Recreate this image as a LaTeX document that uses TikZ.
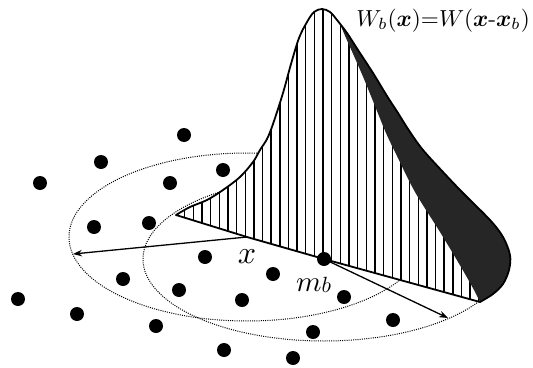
\documentclass[tikz,border=0pt]{standalone}
\usepackage{amsmath}
\usepackage{graphicx}
\usetikzlibrary{arrows.meta}
\begin{document}
\begin{tikzpicture}[x=1pt,y=-1pt,
  dotline/.style={line width=1pt, dash pattern=on 1pt off 1.2pt},
  blob/.style={circle, fill=black, inner sep=0pt, minimum size=14pt},
  outline/.style={line width=1.8pt, line join=round},
  hatchline/.style={line width=1.4pt},
  arr/.style={line width=1.3pt, -{Stealth[length=9pt,width=6.5pt]}},
  darkfill/.style={fill=black!85}]
\useasboundingbox (0,0) rectangle (533,367);

\coordinate (A) at (176,215);
\coordinate (C1) at (247,237);
\coordinate (MB) at (324,259);
\coordinate (E) at (480,302);
\coordinate (XT) at (73,254);
\coordinate (MT) at (448,318);

% dotted ellipses
\draw[dotline] (C1) ellipse [x radius=178pt, y radius=84pt];
\draw[dotline] (MB) ellipse [x radius=181pt, y radius=82pt];

% sample dots
\foreach \i/\p in {1/{(184,135)},2/{(101,162)},3/{(223,170)},4/{(170,183)},5/{(40,183)},
  6/{(94,227)},7/{(149,223)},8/{(205,257)},9/{(273,274)},10/{(123,279)},
  11/{(179,290)},12/{(242,300)},13/{(344,297)},14/{(18,299)},15/{(77,314)},
  16/{(156,326)},17/{(393,320)},18/{(313,332)},19/{(224,350)},20/{(293,358)}}
  \node[blob] (d\i) at \p {};

% kernel white body
\fill[white] plot[smooth,tension=0.55] coordinates {(176,215) (190,207) (207,200) (223,190) (240,177) (253,162) (260,150) (267,139) (273,124) (283,93) (291,64) (299,38) (307,22) (314,12) (322,9) (330,12) (337,20) (347,33) (358,50) (373,73) (387,96) (398,113) (410,132) (423,150) (443,172) (463,193) (490,220) (503,237) (510,255) (509,270) (503,284) (493,294) (480,302)} -- (MB) -- (C1) -- cycle;

\begin{scope}
\clip plot[smooth,tension=0.55] coordinates {(176,215) (190,207) (207,200) (223,190) (240,177) (253,162) (260,150) (267,139) (273,124) (283,93) (291,64) (299,38) (307,22) (314,12) (322,9) (330,12) (337,20) (347,33) (358,50) (373,73) (387,96) (398,113) (410,132) (423,150) (443,172) (463,193) (490,220) (503,237) (510,255) (509,270) (503,284) (493,294) (480,302)} -- (MB) -- (C1) -- cycle;
\foreach \k in {1,...,35}
  \draw[hatchline] ({176+8.65*\k},0) -- ({176+8.65*\k},400);
\fill[darkfill] (340,-10) -- plot[smooth,tension=0.55] coordinates {(340,24) (346,38) (354,56) (364,79) (375,106) (386,133) (397,156) (415,192) (440,232) (461,267) (474,290) (480,302)} -- (486,330) -- (600,330) -- (600,-10) -- cycle;
\end{scope}

% kernel outline
\draw[outline] plot[smooth,tension=0.55] coordinates {(176,215) (190,207) (207,200) (223,190) (240,177) (253,162) (260,150) (267,139) (273,124) (283,93) (291,64) (299,38) (307,22) (314,12) (322,9) (330,12) (337,20) (347,33) (358,50) (373,73) (387,96) (398,113) (410,132) (423,150) (443,172) (463,193) (490,220) (503,237) (510,255) (509,270) (503,284) (493,294) (480,302)} -- (MB) -- (C1) -- cycle;

% arrows
\draw[arr] (C1) -- (XT);
\node[blob] (mb) at (MB) {};
\draw[arr] (mb.center) -- (MT);

% labels
\node[anchor=base east, inner sep=0pt] (title) at (530,26)
  {\scalebox{2.32}{$W_{b}(\boldsymbol{x}){=}W(\boldsymbol{x}\mbox{-}\boldsymbol{x}_{b})$}};
\node[anchor=base, inner sep=0pt] (xl) at (247,263) {\scalebox{3.2}{$x$}};
\node[anchor=base west, inner sep=0pt] (ml) at (296,291)
  {\scalebox{2.9}{$m$}\raisebox{-1pt}{\scalebox{2.2}{$b$}}};
\end{tikzpicture}
\end{document}
